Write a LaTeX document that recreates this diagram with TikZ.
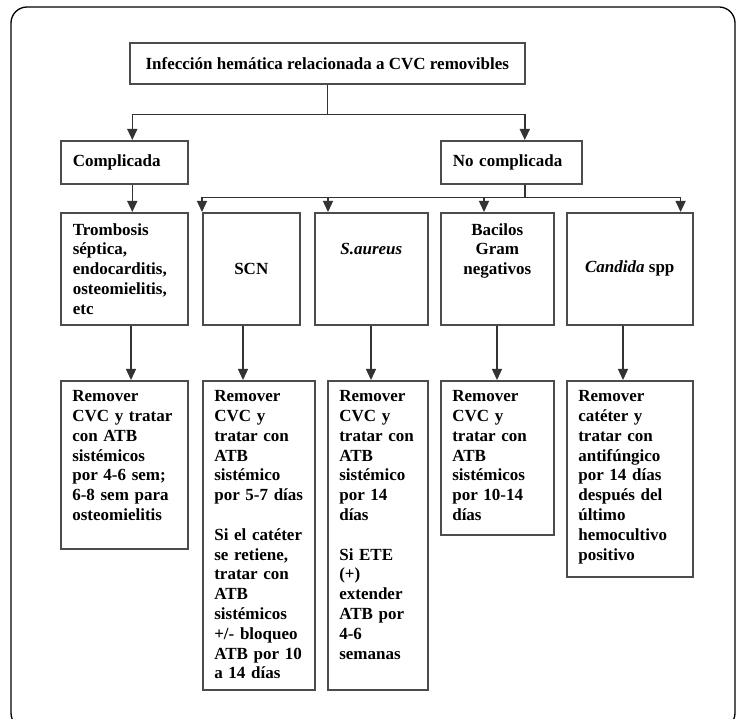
\documentclass[tikz,border=0pt]{standalone}
\usepackage{fontspec}
\setmainfont{Liberation Serif}
\usetikzlibrary{arrows.meta}

\tikzset{
  caja/.style={draw=black!70, line width=1.6pt, inner sep=0pt, anchor=north west,
    font=\bfseries\fontsize{17}{19.8}\selectfont},
  arriba/.style={caja, minimum height=112pt},
  abajo/.style={caja, inner xsep=11.5pt, text height=21pt},
  linea/.style={draw=black!80, line width=1.4pt},
  flecha/.style={linea, -{Triangle[length=11pt,width=10pt]}}
}

\begin{document}
\begin{tikzpicture}[x=1pt,y=-1pt]
\useasboundingbox (0,0) rectangle (740,719);
\clip (0,0) rectangle (740,719);
\draw[line width=1.3pt, rounded corners=16pt] (11,7) rectangle (735,729);

\node[caja, minimum width=395pt, minimum height=41pt] (titulo) at (129,42) {Infección hemática relacionada a CVC removibles};
\node[caja, inner xsep=12pt, text width=103pt, minimum height=43pt] (complicada) at (60,140) {Complicada};
\node[caja, inner xsep=12pt, text width=117pt, minimum height=43pt] (nocomp) at (440,140) {No complicada};

% fila de arriba
\node[arriba, inner xsep=12pt, text width=103pt] (tromb) at (60,212) {Trombosis\\séptica,\\endocarditis,\\osteomielitis,\\etc};
\node[arriba, align=center, minimum width=97pt] (scn) at (202,212) {SCN};
\node[arriba, align=center, minimum width=113pt] (saureus) at (314,212) {\textit{S.aureus}\\~\\~};
\node[arriba, align=center, minimum width=113pt] (bacilos) at (440,212) {Bacilos\\Gram\\negativos\\~\\~};
\node[arriba, align=center, minimum width=126pt] (candida) at (566,212) {\textit{Candida} spp};

% fila de abajo
\node[abajo, text width=104pt, text depth=147pt] (r1) at (60,380) {Remover\\CVC y tratar\\con ATB\\sistémicos\\por 4-6 sem;\\6-8 sem para\\osteomielitis};
\node[abajo, text width=89pt, text depth=288pt] (r2) at (202,380) {Remover\\CVC y\\tratar con\\ATB\\sistémico\\por 5-7 días\\[19.8pt]Si el catéter\\se retiene,\\tratar con\\ATB\\sistémicos\\+/- bloqueo\\ATB por 10\\a 14 días};
\node[abajo, text width=77pt, text depth=288pt] (r3) at (327,380) {Remover\\CVC y\\tratar con\\ATB\\sistémico\\por 14\\días\\[19.8pt]Si ETE\\(+)\\extender\\ATB por\\4-6\\semanas};
\node[abajo, text width=90pt, text depth=133pt] (r4) at (440,380) {Remover\\CVC y\\tratar con\\ATB\\sistémicos\\por 10-14\\días};
\node[abajo, text width=103pt, text depth=175pt] (r5) at (566,380) {Remover\\catéter y\\tratar con\\antifúngico\\por 14 días\\después del\\último\\hemocultivo\\positivo};

% conectores
\draw[linea] (titulo.south) -- ++(0,30) coordinate (t1);
\draw[flecha] (t1) -| ([xshift=8pt]complicada.north);
\draw[flecha] (t1) -| ([xshift=13.5pt]nocomp.north);
\draw[flecha] ([xshift=8pt]complicada.south) -- ([xshift=8pt]tromb.north);

\draw[linea] ([xshift=13.5pt]nocomp.south) -- ++(0,13) coordinate (t2);
\draw[flecha] (t2) -| (scn.north west);
\draw[flecha] (t2) -| ([xshift=14pt]saureus.north west);
\draw[flecha] (t2) -| ([xshift=44pt]bacilos.north west);
\draw[flecha] (t2) -| ([xshift=-13pt]candida.north east);

\draw[flecha] ([xshift=71pt]tromb.south west) -- ([xshift=71pt]r1.north west);
\draw[flecha] ([xshift=41pt]scn.south west) -- ([xshift=41pt]r2.north west);
\draw[flecha] ([xshift=57pt]saureus.south west) -- ([xshift=44pt]r3.north west);
\draw[flecha] ([xshift=57pt]bacilos.south west) -- ([xshift=57pt]r4.north west);
\draw[flecha] ([xshift=57pt]candida.south west) -- ([xshift=57pt]r5.north west);
\end{tikzpicture}
\end{document}
